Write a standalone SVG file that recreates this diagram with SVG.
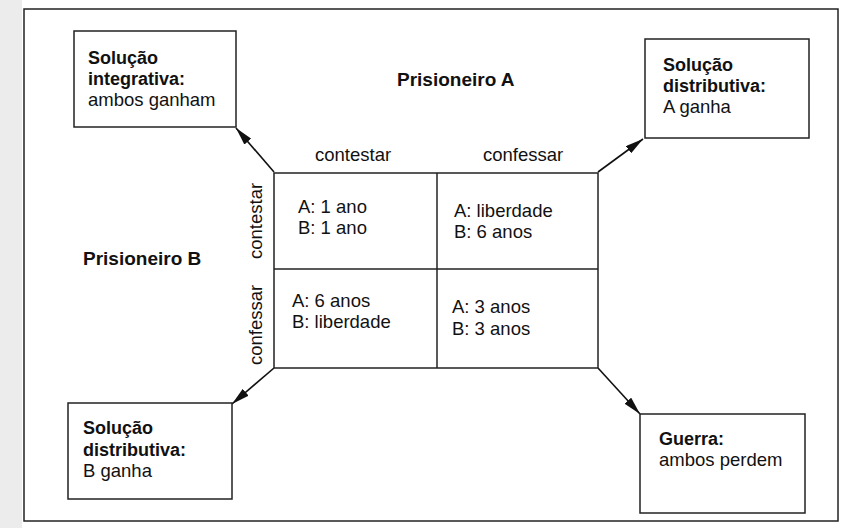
<svg xmlns="http://www.w3.org/2000/svg" width="847" height="528" viewBox="0 0 847 528">
<defs>
<style>
text{font-family:"Liberation Sans",Arial,sans-serif;font-size:18.5px;fill:#111}
.b{font-weight:bold;font-size:18px}
.p{font-size:19px}
.box{fill:#fff;stroke:#222;stroke-width:1.5}
.grid{fill:none;stroke:#222;stroke-width:1.5}
.conn{fill:none;stroke:#111;stroke-width:1.6;marker-end:url(#ah)}
</style>
<marker id="ah" viewBox="0 0 18 9" refX="18" refY="4.5" markerWidth="18" markerHeight="9" markerUnits="userSpaceOnUse" orient="auto">
<path d="M0,0 L18,4.5 L0,9 z" fill="#111"/>
</marker>
</defs>
<rect x="0" y="0" width="847" height="528" fill="#fff"/>
<rect x="0" y="0" width="22" height="528" fill="#ececec"/>
<rect id="frame" x="24" y="9" width="814" height="512" fill="#fff" stroke="#222" stroke-width="1.5"/>

<g id="connectors">
<line class="conn" x1="274" y1="172" x2="236" y2="128"/>
<line class="conn" x1="598" y1="172" x2="643" y2="139"/>
<line class="conn" x1="274" y1="368" x2="232" y2="404"/>
<line class="conn" x1="598" y1="368" x2="640" y2="414"/>
</g>

<g id="matrix">
<rect class="grid" x="274" y="173" width="324" height="195"/>
<line class="grid" x1="274" y1="269" x2="598" y2="269"/>
<line class="grid" x1="437" y1="173" x2="437" y2="368"/>
<text x="315" y="161">contestar</text>
<text x="483" y="161">confessar</text>
<text transform="translate(262,259) rotate(-90)">contestar</text>
<text transform="translate(262,365) rotate(-90)">confessar</text>
<text x="298" y="213">A: 1 ano</text>
<text x="298" y="234">B: 1 ano</text>
<text x="454" y="217">A: liberdade</text>
<text x="454" y="238">B: 6 anos</text>
<text x="292" y="307">A: 6 anos</text>
<text x="292" y="328">B: liberdade</text>
<text x="452" y="313">A: 3 anos</text>
<text x="452" y="335">B: 3 anos</text>
</g>

<g id="prisA"><text class="b p" x="397" y="86">Prisioneiro A</text></g>
<g id="prisB"><text class="b p" x="83" y="265">Prisioneiro B</text></g>

<g id="integrativa">
<rect class="box" x="74" y="31" width="162" height="96"/>
<text class="b" x="88" y="64">Solução</text>
<text class="b" x="88" y="85">integrativa:</text>
<text x="88" y="106">ambos ganham</text>
</g>

<g id="distA">
<rect class="box" x="645" y="39" width="164" height="99"/>
<text class="b" x="663" y="71">Solução</text>
<text class="b" x="663" y="92">distributiva:</text>
<text x="663" y="113">A ganha</text>
</g>

<g id="distB">
<rect class="box" x="68" y="403" width="164" height="96"/>
<text class="b" x="83" y="434">Solução</text>
<text class="b" x="83" y="456">distributiva:</text>
<text x="83" y="477">B ganha</text>
</g>

<g id="guerra">
<rect class="box" x="640" y="414" width="165" height="99"/>
<text class="b" x="659" y="445">Guerra:</text>
<text x="659" y="466">ambos perdem</text>
</g>
</svg>
